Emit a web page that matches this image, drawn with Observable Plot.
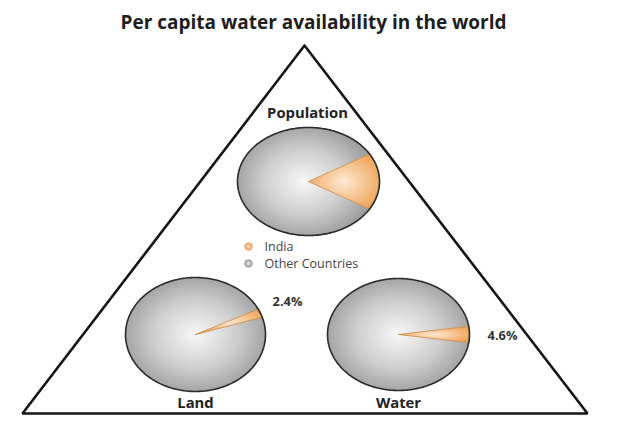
<!DOCTYPE html>
<html><head><meta charset="utf-8">
<script src="https://cdn.jsdelivr.net/npm/d3@7"></script>
<script src="https://cdn.jsdelivr.net/npm/@observablehq/plot@0.6"></script>
<style>body{margin:0;background:#fff;}</style>
</head><body><div id="chart"></div>
<script>
// ---- data ----
const title = "Per capita water availability in the world";
const pieNames = ["Population", "Land", "Water"];
const indiaShare = [17, 2.4, 4.6];          // % of world
const shareLabels = ["", "2.4%", "4.6%"];
const legendLabels = ["India", "Other Countries"];

// ---- layout ----
const W = 628, H = 423;
const layout = [
  {cx: 308, cy: 181, rx: 71, ry: 54, mid: 0,  nameX: 307, nameY: 113, lblX: 0,   lblY: 0},
  {cx: 195, cy: 334, rx: 70, ry: 57, mid: 22, nameX: 195, nameY: 403, lblX: 287, lblY: 301},
  {cx: 398, cy: 334, rx: 71, ry: 56, mid: 0,  nameX: 398, nameY: 403, lblX: 502, lblY: 335}
];
const triangle = [[304, 45], [587, 413], [22, 413], [304, 45]].map(([x, y]) => ({x, y}));
const legendX = 248, legendY0 = 246, legendDy = 17;

function arc(p, a0, a1, withCenter) {
  const pts = withCenter ? [{x: p.cx, y: p.cy}] : [];
  const n = Math.max(2, Math.ceil(Math.abs(a1 - a0)));
  for (let k = 0; k <= n; k++) {
    const a = (a0 + (a1 - a0) * k / n) * Math.PI / 180;
    pts.push({x: p.cx + p.rx * Math.cos(a), y: p.cy - p.ry * Math.sin(a)});
  }
  if (withCenter) pts.push({x: p.cx, y: p.cy});
  return pts;
}

const indiaRows = [], otherRows = [], outlineRows = [];
pieNames.forEach((name, i) => {
  const p = layout[i];
  const span = indiaShare[i] / 100 * 360;
  const a0 = p.mid - span / 2, a1 = p.mid + span / 2;
  arc(p, a0, a1, true).forEach(d => indiaRows.push({...d, pie: name}));
  arc(p, a1, a0 + 360, true).forEach(d => otherRows.push({...d, pie: name}));
  arc(p, 0, 360, false).forEach(d => outlineRows.push({...d, pie: name}));
});

const nameRows = pieNames.map((n, i) => ({n, x: layout[i].nameX, y: layout[i].nameY}));
const lblRows = shareLabels.map((t, i) => ({t, x: layout[i].lblX, y: layout[i].lblY})).filter(d => d.t);
const legendRows = legendLabels.map((t, i) => ({t, x: legendX, y: legendY0 + i * legendDy, fill: i === 0 ? "url(#legO)" : "url(#legG)", stroke: i === 0 ? "#e8a060" : "#9a9a9a"}));

function defs() {
  const ns = "http://www.w3.org/2000/svg";
  const d = document.createElementNS(ns, "defs");
  d.innerHTML = `
    <radialGradient id="gGray" cx="0.5" cy="0.5" r="0.55">
      <stop offset="0" stop-color="#f7f7f7"/>
      <stop offset="0.55" stop-color="#cdcdcd"/>
      <stop offset="1" stop-color="#9b9b9b"/>
    </radialGradient>
    <radialGradient id="gOrange" cx="0.5" cy="0.5" r="0.6">
      <stop offset="0" stop-color="#fde9d2"/>
      <stop offset="1" stop-color="#efa052"/>
    </radialGradient>
    <radialGradient id="legO" cx="0.5" cy="0.5" r="0.5">
      <stop offset="0" stop-color="#fde0c0"/>
      <stop offset="1" stop-color="#eea060"/>
    </radialGradient>
    <radialGradient id="legG" cx="0.5" cy="0.5" r="0.5">
      <stop offset="0" stop-color="#e6e6e6"/>
      <stop offset="1" stop-color="#a0a0a0"/>
    </radialGradient>`;
  return d;
}

const chart = Plot.plot({
  width: W, height: H,
  margin: 0,
  x: {domain: [0, W], range: [0, W], axis: null},
  y: {domain: [0, H], range: [0, H], axis: null},
  color: {type: "identity"},
  style: {fontFamily: "'Open Sans', sans-serif", background: "#fff", color: "#222"},
  marks: [
    defs,
    Plot.line(triangle, {x: "x", y: "y", stroke: "#151515", strokeWidth: 2.6, strokeLinejoin: "miter"}),
    Plot.line(otherRows, {x: "x", y: "y", z: "pie", fill: "url(#gGray)", stroke: "none"}),
    Plot.line(indiaRows, {x: "x", y: "y", z: "pie", fill: "url(#gOrange)", stroke: "#c98640", strokeWidth: 0.8}),
    Plot.line(outlineRows, {x: "x", y: "y", z: "pie", stroke: "#2b2b2b", strokeWidth: 1.6}),
    Plot.text([title], {x: () => 313, y: () => 22, text: d => d, fontSize: 19, fontWeight: "bold", fill: "#1e1e1e"}),
    Plot.text(nameRows, {x: "x", y: "y", text: "n", fontSize: 14.8, fontWeight: "bold", fill: "#222"}),
    Plot.text(lblRows, {x: "x", y: "y", text: "t", fontSize: 12.8, fontWeight: "bold", fill: "#333"}),
    Plot.dot(legendRows, {x: "x", y: "y", r: 3.8, fill: "fill", stroke: "stroke", strokeWidth: 0.8}),
    Plot.text(legendRows, {x: "x", y: "y", dx: 16, text: "t", textAnchor: "start", fontSize: 12.5, fill: "#444"})
  ]
});
document.getElementById("chart").appendChild(chart);
</script>
</body></html>
